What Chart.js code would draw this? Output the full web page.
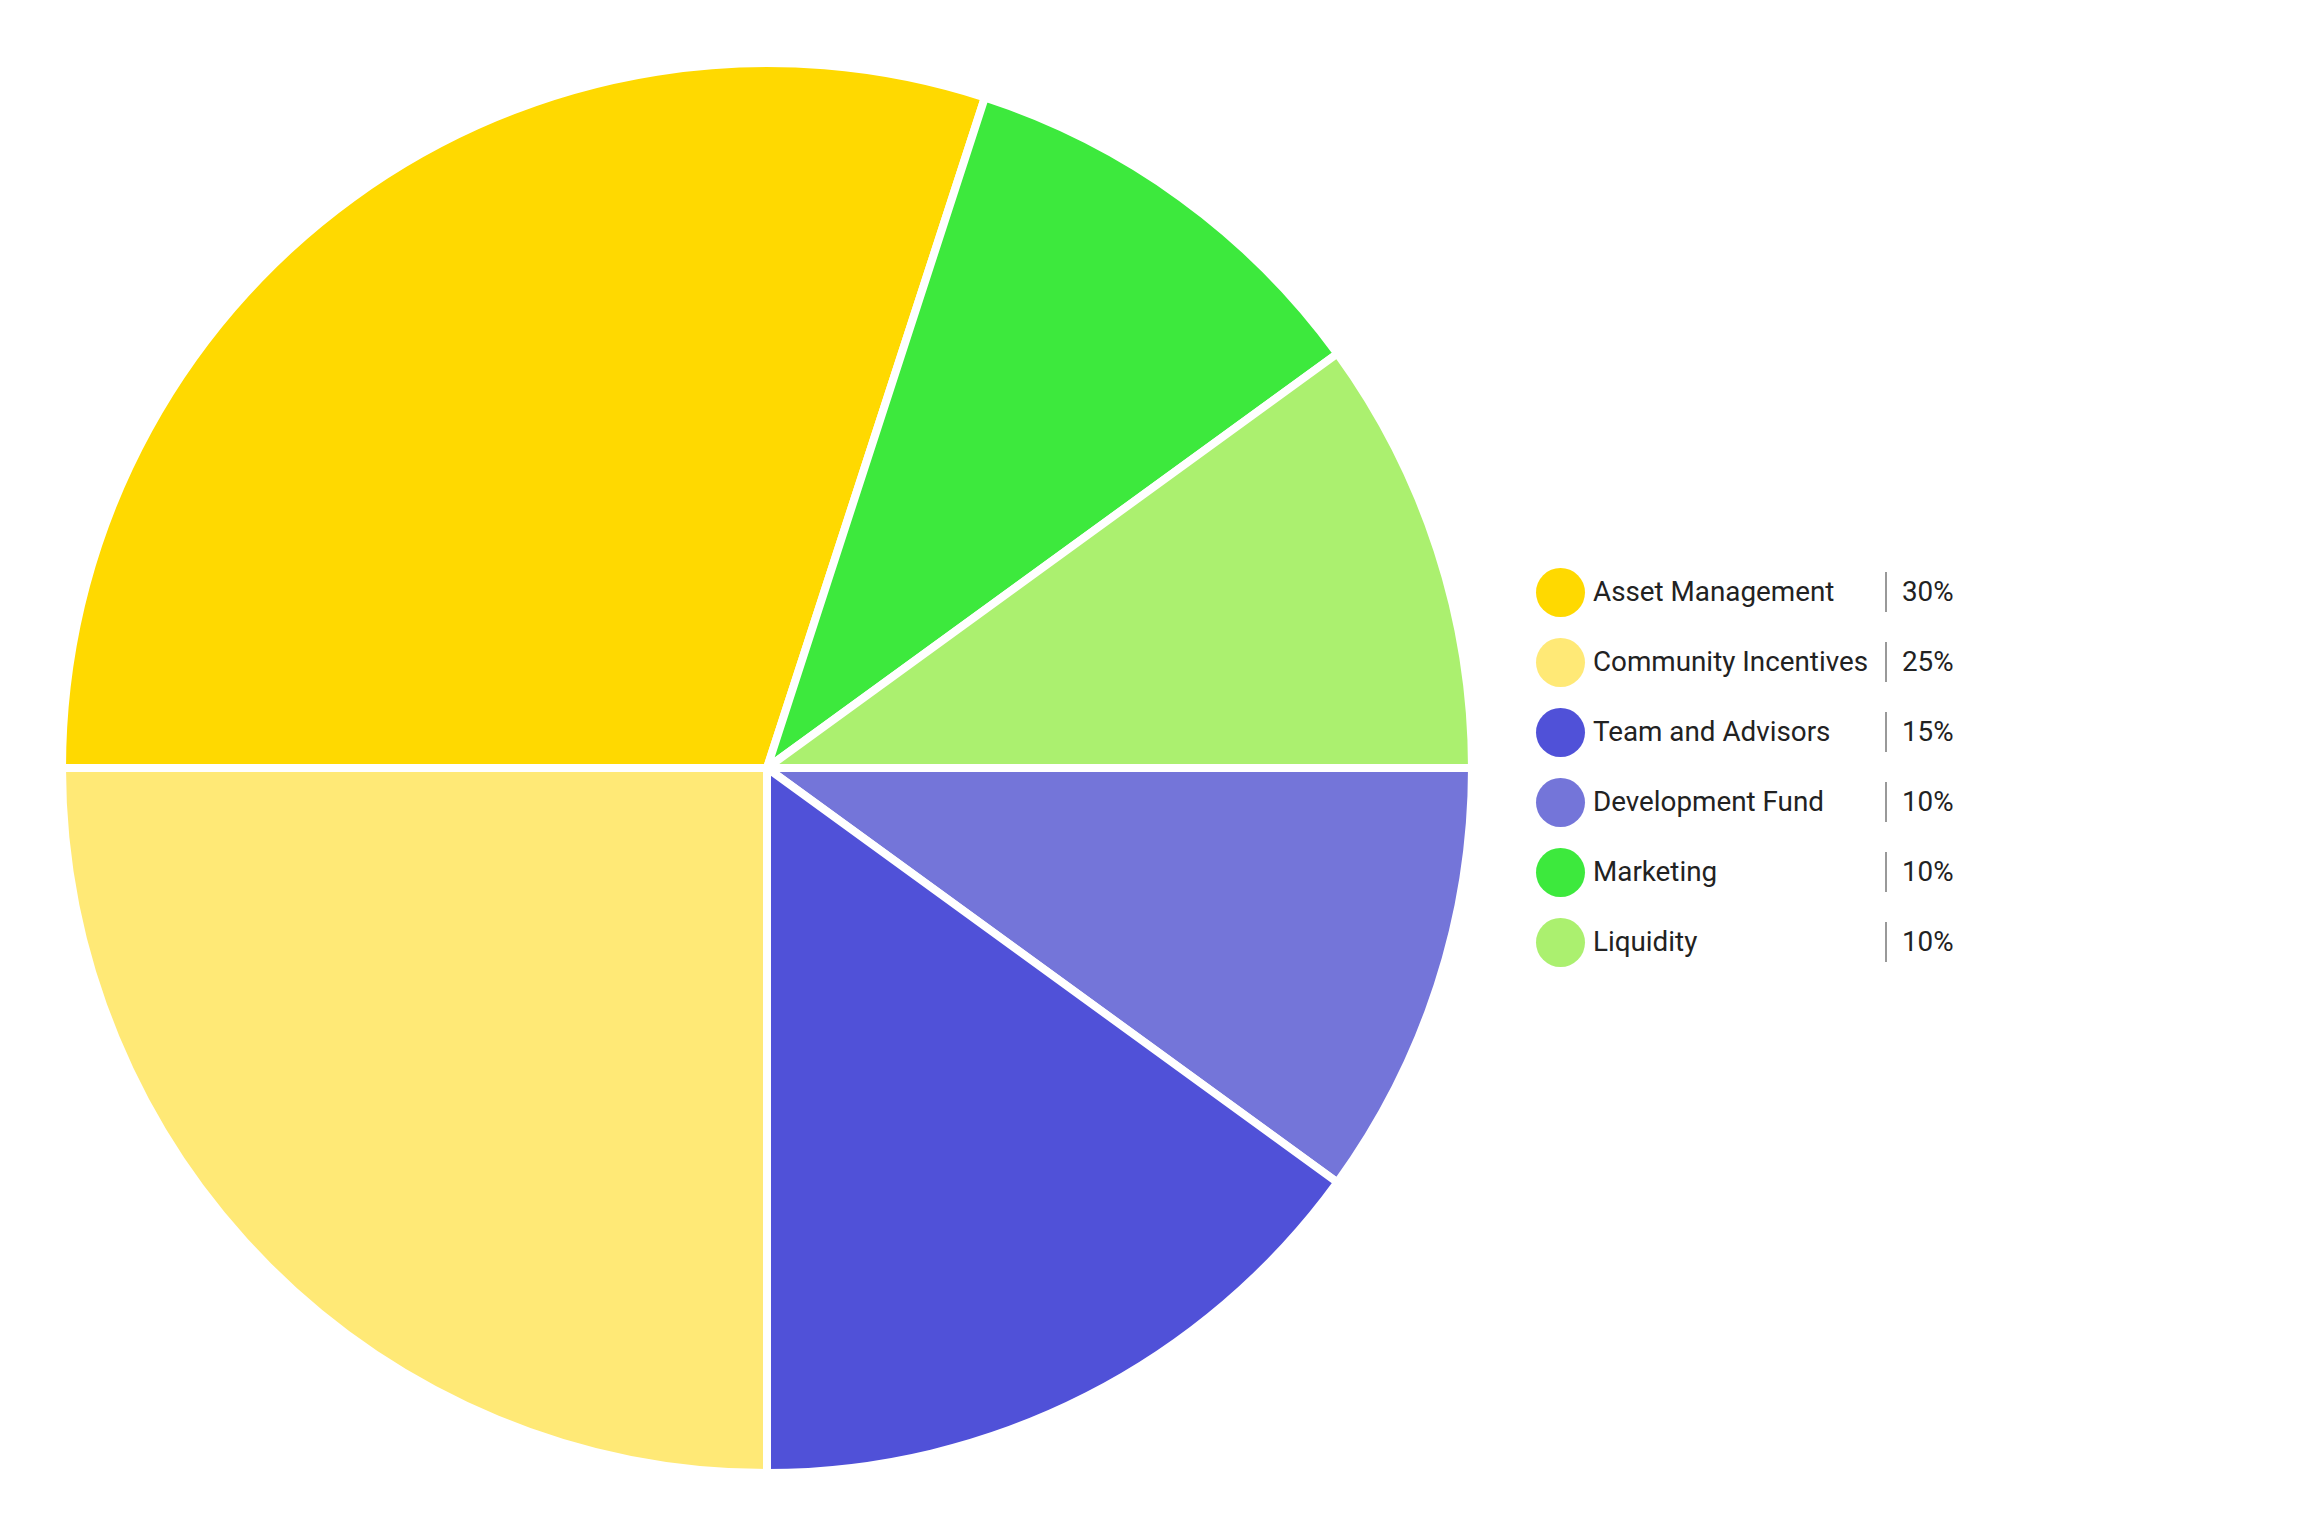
<!DOCTYPE html>
<html>
<head>
<meta charset="utf-8">
<script src="https://cdn.jsdelivr.net/npm/chart.js@4/dist/chart.umd.min.js"></script>
<style>
  html, body { margin: 0; padding: 0; background: #fff; }
  body { width: 2304px; height: 1536px; position: relative; overflow: hidden; font-family: Roboto, "Noto Sans", sans-serif; }
  #wrap { position: absolute; left: 0; top: 0; width: 1534px; height: 1536px; }
  #legend { position: absolute; left: 1536px; top: 557px; }
  .row { position: relative; height: 70px; width: 700px; }
  .dot { position: absolute; left: 0; top: 11px; width: 49px; height: 49px; border-radius: 50%; }
  .lbl { position: absolute; left: 57px; top: 0; line-height: 70px; font-size: 27.8px; color: #222; white-space: nowrap; }
  .sep { position: absolute; left: 349px; top: 15px; width: 1.5px; height: 40px; background: #999; }
  .pct { position: absolute; left: 366px; top: 0; line-height: 70px; font-size: 27.8px; color: #222; }
</style>
</head>
<body>
<div id="wrap"><canvas id="pie"></canvas></div>
<div id="legend"></div>
<script>
// ====== DATA ======
// slice order, clockwise from 9 o'clock
const labels = ["Asset Management", "Marketing", "Liquidity", "Development Fund", "Team and Advisors", "Community Incentives"];
const values = [30, 10, 10, 10, 15, 25];
const colors = ["#FFD900", "#3DE93D", "#ABF06F", "#7475D9", "#5051D8", "#FFE976"];
// order used in the legend
const legendOrder = ["Asset Management", "Community Incentives", "Team and Advisors", "Development Fund", "Marketing", "Liquidity"];

// ====== CHART ======
const pie = new Chart(document.getElementById("pie"), {
    type: 'pie',
    data: {
        labels: labels,
        datasets: [{ data: values, backgroundColor: colors, borderColor: "#fff", borderWidth: 8 }]
    },
    options: {
        responsive: true,
        maintainAspectRatio: false,
        animation: false,
        rotation: -90,
        layout: { padding: 58 },
        plugins: { legend: { display: false }, tooltip: { enabled: false } }
    }
});

// ====== LEGEND ======
const total = values.reduce((a, b) => a + b, 0);
const legendEl = document.getElementById("legend");
legendOrder.forEach(name => {
    const i = labels.indexOf(name);
    const row = document.createElement("div");
    row.className = "row";
    row.innerHTML =
        `<div class="dot" style="background:${colors[i]}"></div>` +
        `<div class="lbl">${name}</div>` +
        `<div class="sep"></div>` +
        `<div class="pct">${Math.round(values[i] / total * 100)}%</div>`;
    legendEl.appendChild(row);
});
</script>
</body>
</html>
